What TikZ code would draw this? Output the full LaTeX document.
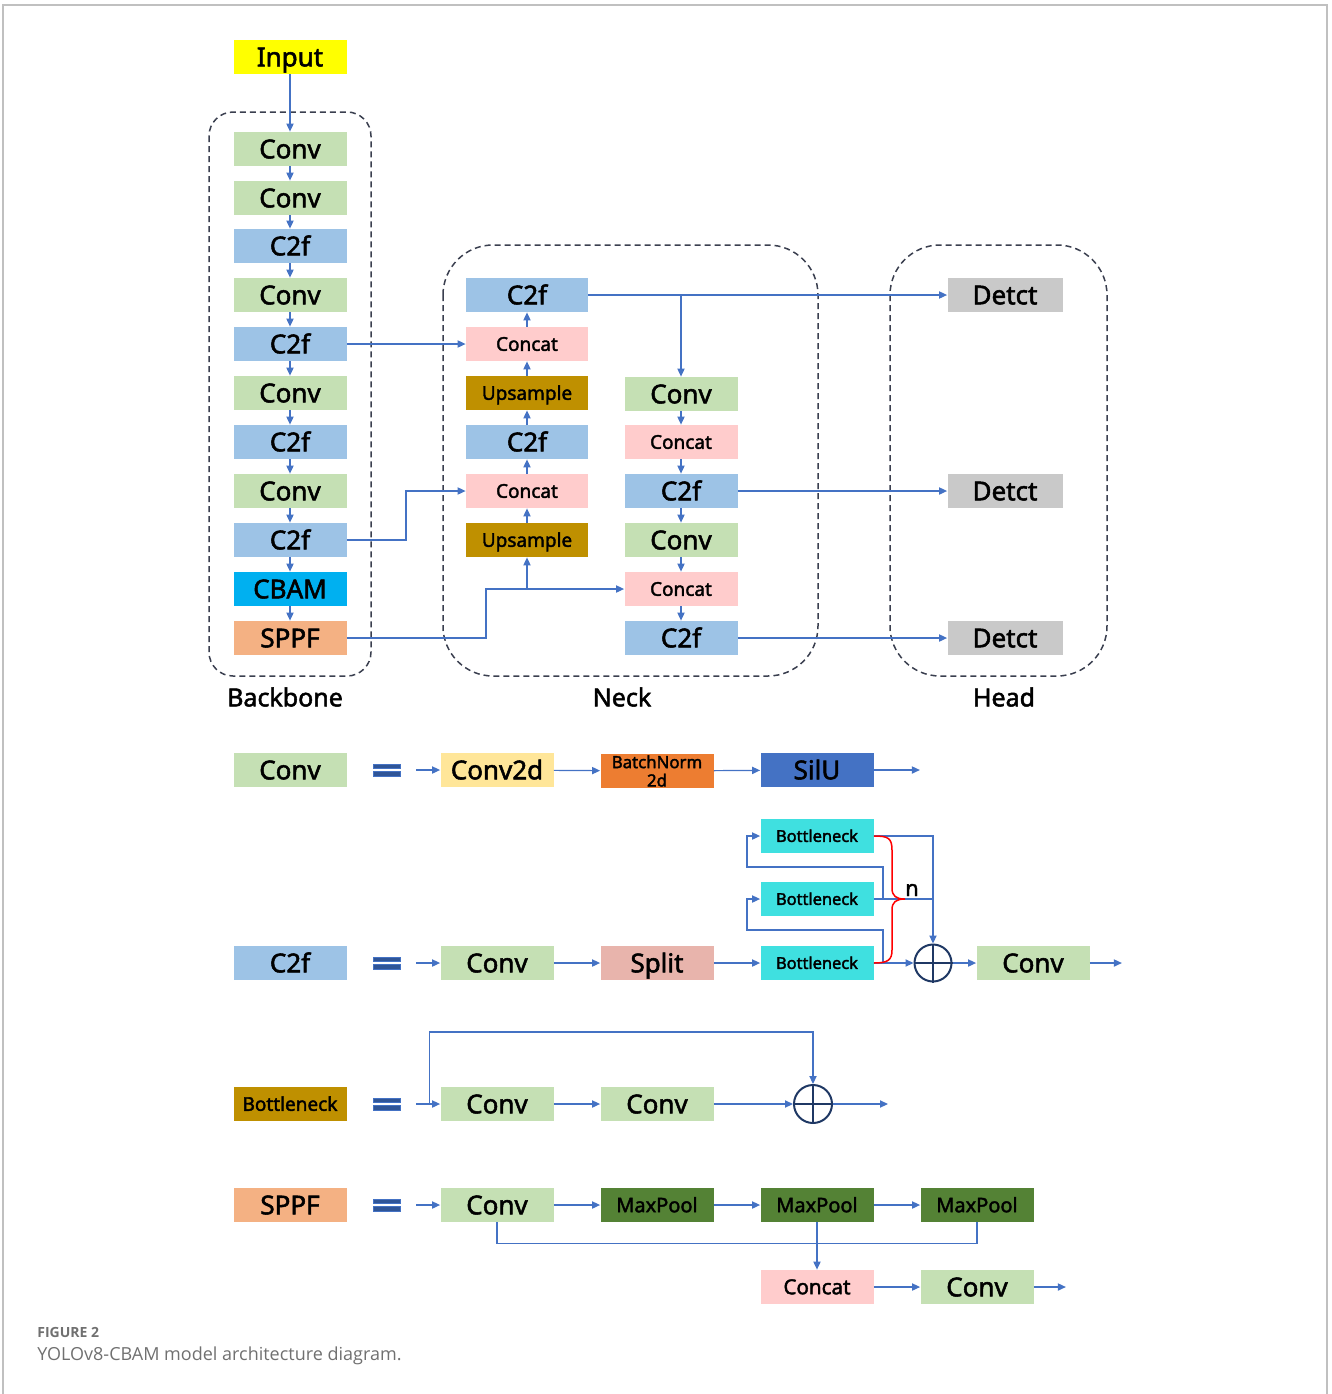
\documentclass[tikz,border=0pt]{standalone}
\usepackage{fontspec}
\setmainfont{Noto Sans}[FakeBold=2]
\newfontfamily\capfont{Open Sans}
\usetikzlibrary{arrows.meta,calc}
\definecolor{cconv}{HTML}{C5E0B4}
\definecolor{cc2f}{HTML}{9DC3E6}
\definecolor{ccat}{HTML}{FFCCCC}
\definecolor{cups}{HTML}{BF9000}
\definecolor{ccbam}{HTML}{00B0F0}
\definecolor{csppf}{HTML}{F4B183}
\definecolor{cdet}{HTML}{C9C9C9}
\definecolor{cyel}{HTML}{FFFF00}
\definecolor{cc2d}{HTML}{FFE699}
\definecolor{cbn}{HTML}{ED7D31}
\definecolor{csilu}{HTML}{4472C4}
\definecolor{csplit}{HTML}{E8B4AC}
\definecolor{cbot}{HTML}{3FE0E0}
\definecolor{cmp}{HTML}{548235}
\definecolor{cline}{HTML}{4472C4}
\definecolor{cdash}{HTML}{3A3F4F}
\definecolor{ceq}{HTML}{2F5597}
\definecolor{cplus}{HTML}{1F3864}
\definecolor{cframe}{HTML}{C0C0C0}
\definecolor{ccap}{HTML}{707070}
\begin{document}
\begin{tikzpicture}[x=0.5pt,y=-0.5pt,
  box/.style={minimum width=56.5pt,minimum height=17pt,inner sep=0pt,
    font=\fontsize{13}{13}\selectfont,text height=9.3pt,text depth=0pt},
  wbox/.style={box,minimum width=61pt},
  mid/.style={font=\fontsize{9.5}{10}\selectfont,text height=6.8pt,text depth=0pt},
  sml/.style={font=\fontsize{8.2}{9}\selectfont,text height=5.9pt,text depth=0pt},
  mp/.style={font=\fontsize{10}{10}\selectfont,text height=7.2pt,text depth=0pt},
  arr/.style={draw=cline,line width=0.6pt,-{Triangle[length=4pt,width=3.6pt]}},
  ln/.style={draw=cline,line width=0.6pt},
  grp/.style={draw=cdash,dash pattern=on 3pt off 2pt,line width=0.75pt},
  lab/.style={font=\fontsize{12.5}{13}\selectfont},
  plus/.style={circle,draw=cplus,line width=1pt,minimum size=18.5pt,inner sep=0pt},
]
\useasboundingbox (0,0) rectangle (1332,1394);
\draw[cframe,line width=0.6pt] (3,1394) -- (3,5) -- (1327,5) -- (1327,1394);

% ---------------- groups
\draw[grp,rounded corners=12pt] (209,112) rectangle (371,676);
\draw[grp,rounded corners=25pt] (443,245) rectangle (818,676);
\draw[grp,rounded corners=25pt] (890,245) rectangle (1107,676);
\node[lab] (lbb) at (285,697) {Backbone};
\node[lab] (lnk) at (622,697) {Neck};
\node[lab] (lhd) at (1004,697) {Head};

% ---------------- backbone
\node[box,fill=cyel] (inp) at (290,57) {Input};
\node[box,fill=cconv] (b1) at (290,149) {Conv};
\node[box,fill=cconv] (b2) at (290,198) {Conv};
\node[box,fill=cc2f] (b3) at (290,246) {C2f};
\node[box,fill=cconv] (b4) at (290,295) {Conv};
\node[box,fill=cc2f] (b5) at (290,344) {C2f};
\node[box,fill=cconv] (b6) at (290,393) {Conv};
\node[box,fill=cc2f] (b7) at (290,442) {C2f};
\node[box,fill=cconv] (b8) at (290,491) {Conv};
\node[box,fill=cc2f] (b9) at (290,540) {C2f};
\node[box,fill=ccbam] (b10) at (290,589) {CBAM};
\node[box,fill=csppf] (b11) at (290,638) {SPPF};
\draw[arr] (inp) -- (b1);
\foreach \a/\b in {b1/b2,b2/b3,b3/b4,b4/b5,b5/b6,b6/b7,b7/b8,b8/b9,b9/b10,b10/b11}
  \draw[arr] (\a) -- (\b);

% ---------------- neck left
\node[wbox,fill=cc2f] (n1) at (527,295) {C2f};
\node[wbox,mid,fill=ccat] (n2) at (527,344) {Concat};
\node[wbox,mid,fill=cups] (n3) at (527,393) {Upsample};
\node[wbox,fill=cc2f] (n4) at (527,442) {C2f};
\node[wbox,mid,fill=ccat] (n5) at (527,491) {Concat};
\node[wbox,mid,fill=cups] (n6) at (527,540) {Upsample};
\foreach \a/\b in {n6/n5,n5/n4,n4/n3,n3/n2,n2/n1}
  \draw[arr] (\a) -- (\b);

% ---------------- neck right
\node[box,fill=cconv] (m1) at (681,394) {Conv};
\node[box,mid,fill=ccat] (m2) at (681,442) {Concat};
\node[box,fill=cc2f] (m3) at (681,491) {C2f};
\node[box,fill=cconv] (m4) at (681,540) {Conv};
\node[box,mid,fill=ccat] (m5) at (681,589) {Concat};
\node[box,fill=cc2f] (m6) at (681,638) {C2f};
\foreach \a/\b in {m1/m2,m2/m3,m3/m4,m4/m5,m5/m6}
  \draw[arr] (\a) -- (\b);

% ---------------- head
\node[box,minimum width=57.5pt,fill=cdet] (h1) at (1005,295) {Detct};
\node[box,minimum width=57.5pt,fill=cdet] (h2) at (1005,491) {Detct};
\node[box,minimum width=57.5pt,fill=cdet] (h3) at (1005,638) {Detct};

% ---------------- connections
\draw[arr] (b5.east) -- (n2.west);
\draw[arr] (b9.east) -- (406,540) |- (n5.west);
\coordinate (k1) at (486,589);
\draw[arr] (b11.east) -| (k1) -- (m5.west);
\draw[arr] (n6.south |- k1) -- (n6.south);
\draw[arr] (n1.east) -- (h1.west);
\draw[arr] (m1.north |- n1.east) -- (m1.north);
\draw[arr] (m3.east) -- (h2.west);
\draw[arr] (m6.east) -- (h3.west);

% ---------------- equals signs
\foreach \yy in {770,963,1104,1205}{
  \filldraw[fill=ceq,draw=cline,line width=0.3pt] (373,\yy-6) rectangle (400,\yy-1.5);
  \filldraw[fill=ceq,draw=cline,line width=0.3pt] (373,\yy+1.5) rectangle (400,\yy+6);
}

% ---------------- row 1: Conv
\node[box,fill=cconv] (r1a) at (290,770) {Conv};
\node[box,fill=cc2d] (r1b) at (497,770) {Conv2d};
\node[box,fill=cbn,align=center,font=\fontsize{8.4}{9.2}\selectfont,text height=,text depth=] (r1c) at (657,771) {BatchNorm\\2d};
\node[box,fill=csilu] (r1d) at (817,770) {SilU};
\draw[arr] ([xshift=-12pt]r1b.west) -- (r1b.west);
\draw[arr] (r1b) -- (r1c);
\draw[arr] (r1c) -- (r1d);
\draw[arr] (r1d.east) -- ++(46,0);

% ---------------- row 2: C2f
\node[box,fill=cc2f] (r2a) at (290,963) {C2f};
\node[box,fill=cconv] (r2b) at (497,963) {Conv};
\node[box,fill=csplit] (r2c) at (657,963) {Split};
\node[box,sml,fill=cbot] (bt3) at (817,963) {Bottleneck};
\node[box,sml,fill=cbot] (bt2) at (817,899) {Bottleneck};
\node[box,sml,fill=cbot] (bt1) at (817,836) {Bottleneck};
\node[plus] (p1) at (933,963) {};
\draw[cplus,line width=1pt] (p1.north) -- (p1.south) (p1.west) -- (p1.east);
\node[box,fill=cconv] (r2d) at (1033,963) {Conv};
\draw[arr] ([xshift=-12pt]r2b.west) -- (r2b.west);
\draw[arr] (r2b) -- (r2c);
\draw[arr] (r2c) -- (bt3);
\draw[arr] (bt3.east) -- (p1.west);
\draw[arr] (bt3.east) -- ++(9,0) |- (747,930) |- (bt2.west);
\draw[arr] (bt2.east) -- ++(9,0) |- (747,867) |- (bt1.west);
\draw[arr] (bt1.east) -| (p1.north);
\draw[ln] (bt2.east) -- (p1.north |- bt2.east);
\draw[red,line width=0.75pt] (bt1.east) .. controls (888,836) and (892,838) .. (892,850) -- (892,888)
  .. controls (892,896) and (896,899) .. (905,899)
  .. controls (896,899) and (892,902) .. (892,910) -- (892,950)
  .. controls (892,960) and (888,963) .. (bt3.east);
\node[font=\fontsize{11}{11}\selectfont] (nlab) at (912,890) {n};
\draw[arr] (p1) -- (r2d);
\draw[arr] (r2d.east) -- ++(32,0);

% ---------------- row 3: Bottleneck
\node[box,mid,fill=cups] (r3a) at (290,1104) {Bottleneck};
\node[box,fill=cconv] (r3b) at (497,1104) {Conv};
\node[box,fill=cconv] (r3c) at (657,1104) {Conv};
\node[plus,minimum size=19pt] (p2) at (813,1104) {};
\draw[cplus,line width=1pt] (p2.north) -- (p2.south) (p2.west) -- (p2.east);
\draw[arr] ([xshift=-12pt]r3b.west) -- (r3b.west);
\draw[arr] ([xshift=-5.5pt]r3b.west) -- ++(0,-72) -| (p2.north);
\draw[arr] (r3b) -- (r3c);
\draw[arr] (r3c) -- (p2);
\draw[arr] (p2.east) -- ++(55,0);

% ---------------- row 4: SPPF
\node[box,fill=csppf] (r4a) at (290,1205) {SPPF};
\node[box,fill=cconv] (r4b) at (497,1205) {Conv};
\node[box,mp,fill=cmp] (mp1) at (657,1205) {MaxPool};
\node[box,mp,fill=cmp] (mp2) at (817,1205) {MaxPool};
\node[box,mp,fill=cmp] (mp3) at (977,1205) {MaxPool};
\node[box,mp,fill=ccat,font=\fontsize{10.3}{10}\selectfont] (r4c) at (817,1287) {Concat};
\node[box,fill=cconv] (r4d) at (977,1287) {Conv};
\draw[arr] ([xshift=-12pt]r4b.west) -- (r4b.west);
\draw[arr] (r4b) -- (mp1);
\draw[arr] (mp1) -- (mp2);
\draw[arr] (mp2) -- (mp3);
\draw[ln] (r4b.south) -- ++(0,21) -| (mp3.south);
\draw[arr] (mp2.south) -- (r4c.north);
\draw[arr] (r4c) -- (r4d);
\draw[arr] (r4d.east) -- ++(32,0);

% ---------------- caption
\node[anchor=west,inner sep=0pt,text=ccap,font=\capfont\bfseries\fontsize{7}{7}\selectfont] (cap1) at (37,1332) {FIGURE 2};
\node[anchor=west,inner sep=0pt,text=ccap,font=\capfont\fontsize{9}{9}\selectfont] (cap2) at (37,1356) {YOLOv8-CBAM model architecture diagram.};
\end{tikzpicture}
\end{document}
